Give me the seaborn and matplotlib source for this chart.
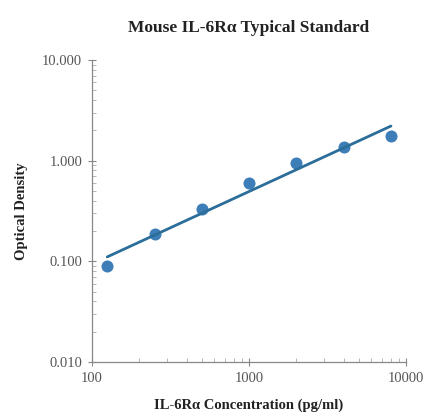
import numpy as np
import pandas as pd
import seaborn as sns
import matplotlib.pyplot as plt
from matplotlib.ticker import LogLocator, FixedLocator, NullFormatter

# Standard curve readings
concentration = [125, 250, 500, 1000, 2000, 4000, 8000]
optical_density = [0.089, 0.185, 0.328, 0.596, 0.94, 1.36, 1.74]
y_ticks = [0.01, 0.1, 1, 10]
y_tick_labels = ['0.010', '0.100', '1.000', '10.000']
x_ticks = [100, 1000, 10000]
x_tick_labels = ['100', '1000', '10000']

sns.set_style("white")
plt.rcParams['font.family'] = ['Liberation Serif', 'DejaVu Serif']

df = pd.DataFrame({'conc': concentration, 'od': optical_density})

# Power-law fit (linear in log-log space)
slope, intercept = np.polyfit(np.log10(df['conc']), np.log10(df['od']), 1)
fit_df = pd.DataFrame({'conc': [df['conc'].min(), df['conc'].max()]})
fit_df['od'] = 10 ** (intercept + slope * np.log10(fit_df['conc']))

fig = plt.figure(figsize=(4.28, 4.19), dpi=100)
ax = fig.add_axes([0.215, 0.136, 0.734, 0.721])

sns.scatterplot(ax=ax, data=df, x='conc', y='od', s=75, color='#3d7db8',
                edgecolor='#3d7db8', linewidth=0, zorder=2)
sns.lineplot(ax=ax, data=fit_df, x='conc', y='od', color='#2b6e99',
             linewidth=2.0, zorder=3)

ax.set_xscale('log')
ax.set_yscale('log')
ax.set_xlim(100, 10000)
ax.set_ylim(0.01, 10)

ax.yaxis.set_major_locator(FixedLocator(y_ticks))
ax.set_yticklabels(y_tick_labels)
ax.xaxis.set_major_locator(FixedLocator(x_ticks))
ax.set_xticklabels(x_tick_labels)
ax.xaxis.set_minor_locator(LogLocator(base=10, subs=np.arange(2, 10)))
ax.yaxis.set_minor_locator(LogLocator(base=10, subs=np.arange(2, 10)))
ax.xaxis.set_minor_formatter(NullFormatter())
ax.yaxis.set_minor_formatter(NullFormatter())

ax.tick_params(which='major', direction='inout', length=6, width=0.8,
               color='#888888', labelsize=10.5, labelcolor='#555555',
               bottom=True, left=True, pad=4)
ax.tick_params(which='minor', direction='in', length=3, width=0.6,
               color='#aaaaaa', bottom=True, left=True)

sns.despine(ax=ax)
for side in ['left', 'bottom']:
    ax.spines[side].set_color('#888888')
    ax.spines[side].set_linewidth(0.9)

ax.set_title('Mouse IL-6Rα Typical Standard', fontsize=12.5, fontweight='bold',
             color='#222222', pad=20)
ax.set_xlabel('IL-6Rα Concentration (pg/ml)', fontsize=10.5, fontweight='bold',
              color='#222222', labelpad=10)
ax.set_ylabel('Optical Density', fontsize=10.5, fontweight='bold',
              color='#222222', labelpad=10)

fig.savefig('out.png', dpi=100)
